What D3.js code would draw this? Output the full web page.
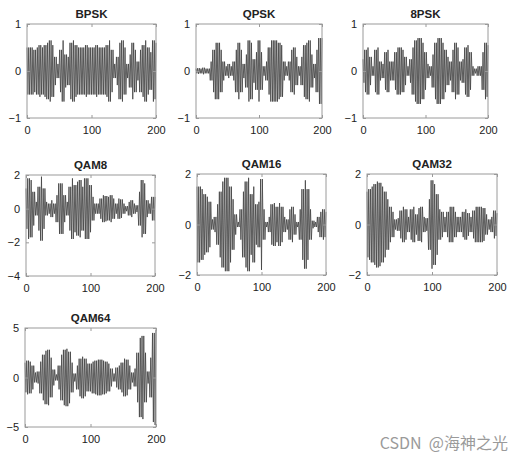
<!DOCTYPE html>
<html>
<head>
<meta charset="utf-8">
<script src="https://cdn.jsdelivr.net/npm/d3@7"></script>
<style>
  html, body { margin: 0; padding: 0; background: #fff; }
  svg { display: block; }
  text { font-family: "Liberation Sans", Arial, sans-serif; fill: #222; }
</style>
</head>
<body>
<svg id="chart" width="518" height="461"></svg>
<script>
// ---- data: envelope amplitude, one value every 4 samples (t = 0..200)
const titles = ["BPSK", "QPSK", "8PSK", "QAM8", "QAM16", "QAM32", "QAM64"];
const sampleStep = 4;
const xTicks = [0, 100, 200];

const bpsk = [0.5,0.5,0.5,0.45,0.5,0.55,0.5,0.55,0.6,0.65,0.55,0.3,0.15,0.45,0.65,0.35,0.3,0.6,0.65,0.55,0.5,0.5,0.5,0.55,0.5,0.5,0.5,0.55,0.5,0.5,0.5,0.55,0.65,0.45,0.15,0.3,0.6,0.65,0.5,0.15,0.35,0.6,0.45,0.2,0.45,0.55,0.65,0.5,0.4,0.65,0.6];
const qpsk = [0.05,0.06,0.05,0.07,0.05,0.05,0.2,0.45,0.6,0.6,0.45,0.2,0.1,0.15,0.1,0.2,0.45,0.6,0.45,0.15,0.35,0.65,0.6,0.25,0.4,0.65,0.4,0.1,0.2,0.5,0.65,0.65,0.65,0.6,0.55,0.2,0.1,0.2,0.45,0.5,0.3,0.1,0.3,0.55,0.6,0.65,0.35,0.15,0.45,0.7,0.7];
const psk8 = [0.25,0.45,0.5,0.3,0.1,0.45,0.5,0.2,0.15,0.4,0.45,0.2,0.2,0.4,0.5,0.5,0.45,0.3,0.1,0.25,0.5,0.65,0.7,0.7,0.6,0.4,0.15,0.1,0.35,0.6,0.7,0.7,0.6,0.45,0.3,0.2,0.45,0.6,0.5,0.2,0.25,0.5,0.55,0.4,0.1,0.05,0.1,0.1,0.4,0.6,0.55];
const qam8 = [1.2,1.8,1.7,1.0,0.4,1.3,1.9,1.2,0.4,0.3,0.5,0.3,0.8,1.5,1.5,0.8,0.4,1.3,1.8,1.4,1.6,1.7,1.3,1.8,1.8,1.4,0.7,0.3,0.3,0.6,0.8,0.75,0.7,0.8,0.6,0.3,0.6,0.55,0.3,0.15,0.4,0.5,0.3,0.2,1.0,1.7,1.5,0.5,0.3,0.7,0.7];
const qam16 = [1.5,1.5,1.4,1.2,1.1,0.9,0.2,0.3,0.8,1.3,1.7,1.85,1.85,1.5,1.0,0.4,0.1,0.6,1.3,1.7,1.85,1.2,1.5,0.8,0.9,1.8,0.6,0.1,0.3,0.8,0.85,0.7,0.85,0.7,0.3,0.2,0.6,0.7,0.4,0.1,0.6,1.4,1.75,1.4,0.6,0.15,0.1,0.3,0.5,0.6,0.5];
const qam32 = [1.3,1.4,1.5,1.6,1.7,1.65,1.5,1.3,1.0,0.7,0.5,0.2,0.25,0.55,0.7,0.6,0.3,0.6,0.7,0.4,0.65,0.7,0.3,0.25,1.0,1.75,1.6,1.2,0.6,0.5,0.3,0.5,0.7,0.7,0.5,0.3,0.3,0.5,0.6,0.45,0.3,0.55,0.7,0.7,0.7,0.65,0.4,0.2,0.3,0.55,0.45];
const qam64 = [1.5,1.7,1.6,1.2,0.5,0.6,1.6,2.3,2.7,2.8,2.0,0.8,0.3,1.2,2.3,2.8,2.9,2.6,1.5,0.4,1.2,1.9,2.1,1.9,1.4,1.4,1.6,1.7,1.8,1.8,1.7,1.6,1.4,0.9,0.4,1.0,1.2,1.5,1.9,1.8,1.2,0.5,0.9,2.5,4.0,4.2,2.5,0.6,2.0,4.5,4.8];

const yDomains = [[-1,1],[-1,1],[-1,1],[-4,2],[-2,2],[-2,2],[-5,5]];
const yTicks = [[-1,0,1],[-1,0,1],[-1,0,1],[-4,-2,0,2],[-2,0,2],[-2,0,2],[-5,0,5]];
const envelopes = [bpsk, qpsk, psk8, qam8, qam16, qam32, qam64];

// ---- layout (pixel boxes of each axes)
const boxes = [
  {l:27,  r:156, t:24,  b:118},
  {l:196, r:322, t:24,  b:118},
  {l:363, r:488, t:24,  b:118},
  {l:26,  r:155, t:175, b:276},
  {l:197, r:326, t:174, b:275},
  {l:367, r:497, t:174, b:275},
  {l:25,  r:156, t:328, b:427}
];

const svg = d3.select("#chart");
const halfCycles = 150; // carrier half-periods across the 200-sample frame

envelopes.forEach((env, idx) => {
  const bx = boxes[idx];
  const x = d3.scaleLinear().domain([0, 200]).range([bx.l, bx.r]);
  const y = d3.scaleLinear().domain(yDomains[idx]).range([bx.b, bx.t]);
  const g = svg.append("g");

  // waveform: carrier alternating between +env and -env
  const pts = d3.range(halfCycles + 1).map(k => {
    const t = k * 200 / halfCycles;
    const a = env[Math.round(t / sampleStep)];
    return [t, (k % 2 === 0 ? 1 : -1) * a];
  });
  g.append("path")
    .attr("d", d3.line().x(d => x(d[0])).y(d => y(d[1]))(pts))
    .attr("fill", "none")
    .attr("stroke", "#404040")
    .attr("stroke-width", 0.8);

  // box
  g.append("rect")
    .attr("x", bx.l).attr("y", bx.t)
    .attr("width", bx.r - bx.l).attr("height", bx.b - bx.t)
    .attr("fill", "none").attr("stroke", "#9a9a9a").attr("stroke-width", 1);

  // axes (inward ticks)
  const axB = g.append("g").attr("transform", `translate(0,${bx.b})`)
    .call(d3.axisBottom(x).tickValues(xTicks).tickSize(-3).tickPadding(6));
  const axT = g.append("g").attr("transform", `translate(0,${bx.t})`)
    .call(d3.axisTop(x).tickValues(xTicks).tickSize(-3).tickFormat(""));
  const axL = g.append("g").attr("transform", `translate(${bx.l},0)`)
    .call(d3.axisLeft(y).tickValues(yTicks[idx]).tickSize(-3).tickPadding(6).tickFormat(d3.format("d")));
  const axR = g.append("g").attr("transform", `translate(${bx.r},0)`)
    .call(d3.axisRight(y).tickValues(yTicks[idx]).tickSize(-3).tickFormat(""));
  [axB, axT, axL, axR].forEach(a => {
    a.select(".domain").remove();
    a.selectAll(".tick line").attr("stroke", "#9a9a9a");
    a.selectAll("text").attr("font-size", 11).attr("fill", "#222")
      .attr("font-family", "Liberation Sans, Arial, sans-serif");
  });
  axB.selectAll("text").attr("dy", "0.95em");

  // title
  g.append("text")
    .attr("x", (bx.l + bx.r) / 2).attr("y", bx.t - 6)
    .attr("text-anchor", "middle")
    .attr("font-size", 11.5).attr("font-weight", "bold")
    .text(titles[idx]);
});

// watermark
svg.append("text")
  .attr("x", 508).attr("y", 449)
  .attr("text-anchor", "end")
  .attr("font-size", 16)
  .attr("xml:space", "preserve")
  .style("white-space", "pre")
  .style("font-family", "'Noto Sans CJK SC', 'Liberation Sans', sans-serif")
  .style("fill", "#9a9a9a")
  .text("CSDN  @海神之光");
</script>
</body>
</html>
